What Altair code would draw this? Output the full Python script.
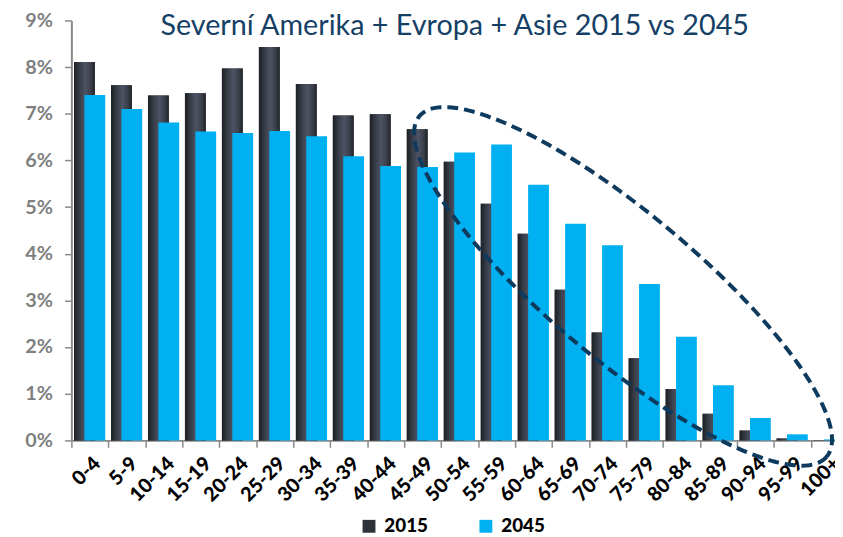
import math
import altair as alt
import pandas as pd

categories = ["0-4", "5-9", "10-14", "15-19", "20-24", "25-29", "30-34", "35-39",
              "40-44", "45-49", "50-54", "55-59", "60-64", "65-69", "70-74", "75-79",
              "80-84", "85-89", "90-94", "95-99", "100+"]
values_2015 = [8.11, 7.61, 7.39, 7.44, 7.97, 8.43, 7.64, 6.96, 6.99, 6.67, 5.97,
               5.07, 4.43, 3.23, 2.31, 1.76, 1.10, 0.57, 0.21, 0.04, 0.005]
values_2045 = [7.40, 7.10, 6.81, 6.62, 6.59, 6.63, 6.52, 6.09, 5.88, 5.86, 6.17,
               6.34, 5.48, 4.64, 4.18, 3.35, 2.22, 1.18, 0.48, 0.13, 0.02]
series = ["2015", "2045"]
series_colors = ["#2d313a", "#00b0f0"]
y_ticks = [0, 1, 2, 3, 4, 5, 6, 7, 8, 9]
title_text = "Severní Amerika + Evropa + Asie 2015 vs 2045"

# annotation ellipse (centre in category units / percent, axes in px, tilt in degrees)
ell_center_cat = 14.92
ell_center_pct = 3.30
ell_a_px = 268
ell_b_px = 74
ell_angle_deg = 39.9

W = 771          # visible plot width (chart is cut at the right edge like the original)
RANGE_W = 784    # full width of the category scale
H = 424
NCAT = len(categories)
YMAX = 9

rows = []
for c, v in zip(categories, values_2015):
    rows.append({"category": c, "series": "2015", "value": v})
for c, v in zip(categories, values_2045):
    rows.append({"category": c, "series": "2045", "value": v})
df = pd.DataFrame(rows)

# ellipse outline
px_per_cat = RANGE_W / NCAT
px_per_pct = H / YMAX
cx = ell_center_cat * px_per_cat
cy = H - ell_center_pct * px_per_pct
th = math.radians(ell_angle_deg)
ell_rows = []
N = 180
for i in range(N + 1):
    t = 2 * math.pi * i / N
    px = cx + ell_a_px * math.cos(th) * math.cos(t) - ell_b_px * math.sin(th) * math.sin(t)
    py = cy + ell_a_px * math.sin(th) * math.cos(t) + ell_b_px * math.cos(th) * math.sin(t)
    ell_rows.append({"i": i, "ex": px / px_per_cat, "ey": (H - py) / px_per_pct})
ell_df = pd.DataFrame(ell_rows)

FONT = "Lato"

x_enc = alt.X("category:N", sort=categories,
              scale=alt.Scale(paddingInner=0, paddingOuter=0, range=[0, RANGE_W]),
              axis=alt.Axis(title=None, labelAngle=-45, tickBand="extent",
                            domainColor="#8a8a8a", domainWidth=2,
                            tickColor="#8a8a8a", tickWidth=1.5, tickSize=7,
                            labelFont=FONT, labelFontWeight=900, labelFontSize=20,
                            labelColor="#000000", labelPadding=6,
                            labelOverlap=False, labelBound=False))
y_enc = alt.Y("value:Q", scale=alt.Scale(domain=[0, YMAX], nice=False, zero=True),
              axis=alt.Axis(title=None, values=y_ticks, grid=False,
                            labelExpr="datum.value + '%'",
                            domainColor="#8a8a8a", domainWidth=2,
                            tickColor="#8a8a8a", tickWidth=1.5, tickSize=7,
                            labelFont=FONT, labelFontWeight="bold", labelFontSize=20,
                            labelColor="#7f7f7f", labelPadding=12))
color_enc = alt.Color("series:N",
                      scale=alt.Scale(domain=series, range=series_colors),
                      legend=alt.Legend(title=None, orient="none", legendX=291, legendY=501,
                                        direction="horizontal", symbolType="square",
                                        symbolSize=169, symbolStrokeWidth=0,
                                        labelFont=FONT, labelFontWeight=900,
                                        labelFontSize=19, labelColor="#000000",
                                        labelOffset=6, columnPadding=48))

base = alt.Chart(df)
dark = base.transform_filter(alt.datum.series == "2015").mark_bar(
    width=21, xOffset=-5.5).encode(x=x_enc, y=y_enc, color=color_enc)
dark_grad = base.transform_filter(alt.datum.series == "2015").mark_bar(
    width=21, xOffset=-5.5,
    color=alt.Gradient(gradient="linear", x1=0, x2=1, y1=0, y2=0,
                       stops=[alt.GradientStop(color="#1c1f25", offset=0),
                              alt.GradientStop(color="#3a404b", offset=0.3),
                              alt.GradientStop(color="#4c5363", offset=0.55),
                              alt.GradientStop(color="#3a3f4a", offset=0.8),
                              alt.GradientStop(color="#202329", offset=1)])
).encode(x=x_enc, y=y_enc)
blue = base.transform_filter(alt.datum.series == "2045").mark_bar(
    width=21, xOffset=5).encode(x=x_enc, y=y_enc, color=color_enc)

bars = alt.layer(dark, dark_grad, blue)

ellipse = alt.Chart(ell_df).mark_line(
    color="#0e3a5e", strokeWidth=4, strokeDash=[11, 6]
).encode(
    x=alt.X("ex:Q", scale=alt.Scale(domain=[0, NCAT], nice=False, zero=False,
                                    range=[0, RANGE_W]), axis=None),
    y=alt.Y("ey:Q", scale=alt.Scale(domain=[0, YMAX], nice=False, zero=False), axis=None),
    order=alt.Order("i:Q"),
)

title = alt.Chart(pd.DataFrame({"t": [title_text]})).mark_text(
    font=FONT, fontSize=29, color="#154066", align="center", baseline="alphabetic"
).encode(x=alt.value(387), y=alt.value(15), text="t:N")

chart = alt.layer(bars, ellipse, title).resolve_scale(
    x="independent", y="independent"
).properties(
    width=W, height=H,
    padding={"left": 64, "top": 10, "right": 0, "bottom": 95},
    autosize=alt.AutoSizeParams(type="none"),
).configure_view(stroke=None)

chart.save("out.html", embed_options={"renderer": "svg", "actions": False})
